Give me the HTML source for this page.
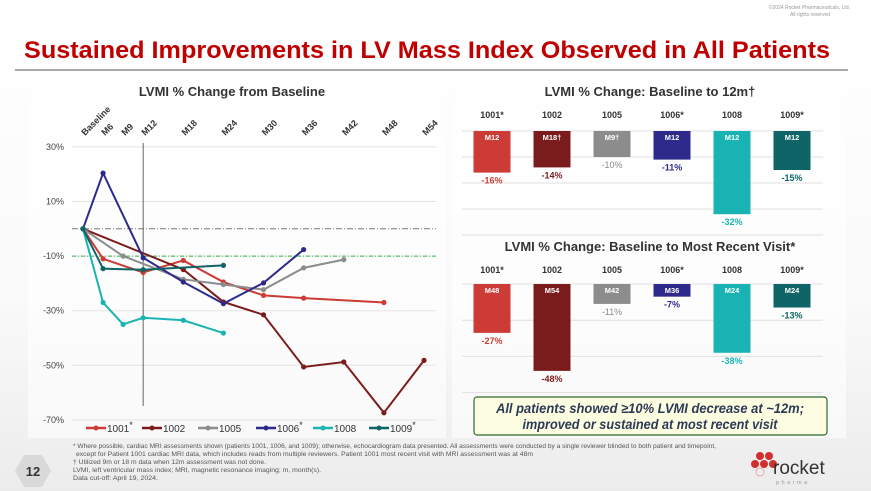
<!DOCTYPE html>
<html><head><meta charset="utf-8"><style>
html,body{margin:0;padding:0;background:#fff;}
svg{display:block;font-family:"Liberation Sans",sans-serif;}
</style></head><body>
<svg id="s" width="871" height="491" viewBox="0 0 871 491" xmlns="http://www.w3.org/2000/svg">
<defs>
<linearGradient id="bg" x1="0" y1="0" x2="0" y2="1"><stop offset="0" stop-color="#ffffff"/><stop offset="0.6" stop-color="#fafafa"/><stop offset="1" stop-color="#ececec"/></linearGradient>
</defs>
<rect x="0" y="0" width="871" height="491" fill="url(#bg)"/>
<text x="850" y="9" font-size="5" fill="#999" text-anchor="end">©2024 Rocket Pharmaceuticals, Ltd.</text>
<text x="830" y="16" font-size="5" fill="#999" text-anchor="end">All rights reserved</text>
<text x="24" y="58" font-size="24" font-weight="bold" fill="#c00000" textLength="806" lengthAdjust="spacingAndGlyphs">Sustained Improvements in LV Mass Index Observed in All Patients</text>
<line x1="15" y1="70" x2="848" y2="70" stroke="#777" stroke-width="1.2"/>
<rect x="28" y="74" width="418" height="364" fill="#fff" opacity="0.6"/>
<rect x="452" y="74" width="394" height="364" fill="#fff" opacity="0.6"/>

<g id="lc"></g>
<g id="bc"></g>

<g>
<rect x="474" y="397" width="353" height="38" rx="3" fill="#fdfde2" stroke="#2e6b2e" stroke-width="1.2"/>
<text x="650" y="413" font-size="13.5" font-style="italic" font-weight="bold" fill="#2d3a55" text-anchor="middle" textLength="308" lengthAdjust="spacingAndGlyphs">All patients showed ≥10% LVMI decrease at ~12m;</text>
<text x="650" y="429" font-size="13.5" font-style="italic" font-weight="bold" fill="#2d3a55" text-anchor="middle" textLength="255" lengthAdjust="spacingAndGlyphs">improved or sustained at most recent visit</text>
</g>

<g>
<polygon points="24,455 42,455 51,471 42,487 24,487 15,471" fill="#d9d9d9"/>
<text x="33" y="476" font-size="13" font-weight="bold" fill="#333" text-anchor="middle">12</text>
</g>
<g font-size="6" fill="#555">
<text x="73" y="448" textLength="643" lengthAdjust="spacingAndGlyphs">* Where possible, cardiac MRI assessments shown (patients 1001, 1006, and 1009); otherwise, echocardiogram data presented. All assessments were conducted by a single reviewer blinded to both patient and timepoint,</text>
<text x="76" y="456" textLength="457" lengthAdjust="spacingAndGlyphs">except for Patient 1001 cardiac MRI data, which includes reads from multiple reviewers. Patient 1001 most recent visit with MRI assessment was at 48m</text>
<text x="73" y="464" textLength="193" lengthAdjust="spacingAndGlyphs">† Utilized 9m or 18 m data when 12m assessment was not done.</text>
<text x="73" y="472" textLength="248" lengthAdjust="spacingAndGlyphs">LVMI, left ventricular mass index; MRI, magnetic resonance imaging; m, month(s).</text>
<text x="73" y="480" textLength="85" lengthAdjust="spacingAndGlyphs">Data cut-off: April 19, 2024.</text>
</g>
<g>
<circle cx="760" cy="456" r="4" fill="#d32f2f"/><circle cx="769" cy="456" r="4" fill="#d32f2f"/>
<circle cx="755" cy="464" r="4" fill="#d32f2f"/><circle cx="764" cy="464" r="4" fill="#d32f2f"/><circle cx="773" cy="464" r="4" fill="#d32f2f"/>
<circle cx="760" cy="472" r="4" fill="none" stroke="#e8a0a0" stroke-width="0.8"/>
<text x="773" y="474" font-size="19" fill="#333">rocket</text>
<text x="776" y="484" font-size="5.5" fill="#999" letter-spacing="2.5">pharma</text>
</g>
</svg>
<script>
const NS="http://www.w3.org/2000/svg";
const categories=["Baseline","M6","M9","M12","M18","M24","M30","M36","M42","M48","M54"];
const catSlots=[0,1,2,3,5,7,9,11,13,15,17];
const yTicks=[30,10,-10,-30,-50,-70];
const yTickLabels=["30%","10%","-10%","-30%","-50%","-70%"];
const seriesNames=["1001*","1002","1005","1006*","1008","1009*"];
const seriesColors=["#cc3b35","#7b1c1c","#8c8c8c","#2e2a8c","#1ab3b3","#0e6466"];
const s1001=[0,-11,null,-16,-11.6,-19.5,-24.4,-25.4,null,-27,null];
const s1002=[0,null,null,null,-14.9,-26.8,-31.5,-50.6,-48.8,-67.4,-48.2];
const s1005=[0,null,-10,null,-18.5,-20.4,-22.3,-14.3,-11.3,null,null];
const s1006=[0,20.4,null,-10.6,-19.5,-27.4,-19.8,-7.6,null,null,null];
const s1008=[0,-27,-35,-32.6,-33.5,-38.2,null,null,null,null,null];
const s1009=[0,-14.6,null,-15,null,-13.4,null,null,null,null,null];
const allSeries=[s1001,s1002,s1005,s1006,s1008,s1009];

const barPatients=["1001*","1002","1005","1006*","1008","1009*"];
const bar12Values=[-16,-14,-10,-11,-32,-15];
const bar12Visits=["M12","M18†","M9†","M12","M12","M12"];
const barRecentValues=[-27,-48,-11,-7,-38,-13];
const barRecentVisits=["M48","M54","M42","M36","M24","M24"];

function mk(tag,attrs,parent,text){const e=document.createElementNS(NS,tag);for(const k in attrs)e.setAttribute(k,attrs[k]);if(text!==undefined)e.textContent=text;parent.appendChild(e);return e;}

// line chart
const lc=document.getElementById('lc');
const X=i=>83+catSlots[i]*20.06;
const Y=v=>228.8-v*2.73;
mk('text',{x:232,y:96,'font-size':13,'font-weight':'bold',fill:'#333','text-anchor':'middle'},lc,'LVMI % Change from Baseline');
yTicks.forEach((t,i)=>{
  const g=mk('line',{x1:72,x2:436,y1:Y(t),y2:Y(t),stroke:'#e4e4e4','stroke-width':1},lc);
  
  
  const l=mk('text',{x:64,y:Y(t)+3,'font-size':9,fill:'#444','text-anchor':'end'},lc,yTickLabels[i]);
  
  
});
categories.forEach((c,i)=>{
  const t=mk('text',{x:X(i)+2,y:136,'font-size':9,'font-weight':'bold',fill:'#333',transform:`rotate(-45 ${X(i)+2} 136)`},lc,c);
  
  
});
const zl=mk('line',{x1:72,x2:436,y1:Y(0),y2:Y(0),stroke:'#777','stroke-width':1,'stroke-dasharray':'6 2 1 2'},lc);


const tl=mk('line',{x1:72,x2:436,y1:Y(-10),y2:Y(-10),stroke:'#2fb34a','stroke-width':1,'stroke-dasharray':'4 2 1 2'},lc);


const vl=mk('line',{x1:X(3),x2:X(3),y1:143,y2:406,stroke:'#666','stroke-width':1},lc);


allSeries.forEach((s,si)=>{
  const pts=[];s.forEach((v,i)=>{if(v!==null)pts.push([X(i),Y(v)]);});
  const p=mk('polyline',{points:pts.map(p=>p.join(',')).join(' '),fill:'none',stroke:seriesColors[si],'stroke-width':2},lc);
  
  
  pts.forEach(pt=>{const c=mk('circle',{cx:pt[0],cy:pt[1],r:2.6,fill:seriesColors[si]},lc);
    
    });
});
const legX=[86,142,198,256,313,369];
seriesNames.forEach((n,i)=>{
  const g=mk('g',{},lc);
  
  
  mk('line',{x1:legX[i],x2:legX[i]+20,y1:428,y2:428,stroke:seriesColors[i],'stroke-width':2.5},g);
  mk('circle',{cx:legX[i]+10,cy:428,r:2.5,fill:seriesColors[i]},g);
  const base=n.replace('*','');
  const t=mk('text',{x:legX[i]+21,y:432,'font-size':10,fill:'#333'},g,base);
  if(n.includes('*'))mk('tspan',{dy:-4,'font-size':9},t,'*');
});

// bar charts
const bc=document.getElementById('bc');
const barCx=i=>492+i*60;
function barChart(title,titleY,headY,baseY,gridYs,scale,vals,visits){
  const tt=mk('text',{x:650,y:titleY,'font-size':13,'font-weight':'bold',fill:'#333','text-anchor':'middle'},bc,title);
  
  
  gridYs.forEach(g=>{const l=mk('line',{x1:462,x2:823,y1:baseY-g*scale,y2:baseY-g*scale,stroke:'#e0e0e0'},bc);
    
    });
  barPatients.forEach((p,i)=>{
    const h=mk('text',{x:barCx(i),y:headY,'font-size':9,'font-weight':'bold',fill:'#333','text-anchor':'middle'},bc,p);
    
    
    const v=vals[i];
    const r=mk('rect',{x:barCx(i)-18.5,y:baseY,width:37,height:-v*scale,fill:seriesColors[i]},bc);
    
    
    const vt=mk('text',{x:barCx(i),y:baseY+9,'font-size':7.5,'font-weight':'bold',fill:'#fff','text-anchor':'middle'},bc,visits[i]);
    
    
    const lt=mk('text',{x:barCx(i),y:baseY-v*scale+11,'font-size':9,'font-weight':(i===2?'normal':'bold'),fill:seriesColors[i],'text-anchor':'middle'},bc,v+'%');
    
    
  });
}
barChart('LVMI % Change: Baseline to 12m†',96,118,131,[0,-10,-20,-30,-40],2.6,bar12Values,bar12Visits);
barChart('LVMI % Change: Baseline to Most Recent Visit*',251,273,284,[0,-20,-40,-60],1.81,barRecentValues,barRecentVisits);
</script>
</body></html>
